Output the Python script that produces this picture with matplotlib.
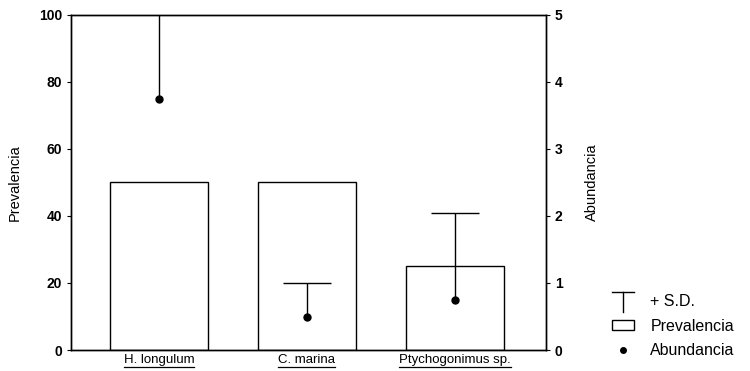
import matplotlib.pyplot as plt
from matplotlib.lines import Line2D
from matplotlib.patches import Rectangle
from matplotlib.legend_handler import HandlerBase
import numpy as np

plt.rcParams['font.family'] = ['Liberation Sans', 'DejaVu Sans']

species = ['H. longulum', 'C. marina', 'Ptychogonimus sp.']
prevalencia = [50, 50, 25]
abundancia = [3.75, 0.5, 0.75]
sd = [1.6, 0.5, 1.3]


class TeeHandle:
    pass


class HandlerTee(HandlerBase):
    def create_artists(self, legend, orig_handle, xdescent, ydescent,
                       width, height, fontsize, trans):
        x0, x1 = -xdescent, -xdescent + width
        xm = (x0 + x1) / 2
        top = -ydescent + height * 1.4
        bot = -ydescent - height * 0.6
        h = Line2D([x0, x1], [top, top], color='black', lw=1, transform=trans)
        v = Line2D([xm, xm], [top, bot], color='black', lw=1, transform=trans)
        return [h, v]


fig = plt.figure(figsize=(7.5, 3.71), dpi=100)
ax = fig.add_axes([0.0947, 0.0566, 0.633, 0.903])
x = np.arange(len(species))

ax.bar(x, prevalencia, width=0.66, facecolor='white', edgecolor='black', linewidth=1)
ax.set_xlim(-0.595, 2.615)
ax.set_ylim(0, 100)
ax.set_yticks([0, 20, 40, 60, 80, 100])
ax.set_ylabel('Prevalencia', fontsize=10.5, labelpad=12)
ax.set_xticks(x)
ax.set_xticklabels(species, fontsize=9.5)
ax.tick_params(axis='x', length=0, pad=3)
ax.tick_params(axis='y', direction='out', length=3, labelsize=10)
for lab in ax.get_yticklabels():
    lab.set_fontweight('bold')

ax2 = ax.twinx()
ax2.set_ylim(0, 5)
ax2.set_yticks([0, 1, 2, 3, 4, 5])
eb = ax2.errorbar(x, abundancia, yerr=[np.zeros(len(sd)), sd], fmt='o', color='black',
                  markersize=5, elinewidth=1, capsize=17, capthick=1)
# keep only the upper (+S.D.) caps
for cap in eb[1]:
    if np.allclose(cap.get_ydata(), abundancia):
        cap.remove()
ax2.set_ylabel('Abundancia', fontsize=10.5, labelpad=16)
ax2.tick_params(axis='y', direction='out', length=3, labelsize=10)
for lab in ax2.get_yticklabels():
    lab.set_fontweight('bold')

for a in (ax, ax2):
    for s in a.spines.values():
        s.set_linewidth(1)
        s.set_color('black')

handles = [TeeHandle(),
           Rectangle((0, 0), 1, 1, facecolor='white', edgecolor='black', lw=1),
           Line2D([], [], marker='o', color='black', ls='none', markersize=4)]
fig.legend(handles, ['+ S.D.', 'Prevalencia', 'Abundancia'],
           handler_map={TeeHandle: HandlerTee()},
           loc='lower left', bbox_to_anchor=(0.797, -0.005), frameon=False,
           fontsize=11.5, handlelength=1.4, handleheight=0.6, labelspacing=0.6,
           handletextpad=1.0)

# underline the species names
fig.canvas.draw()
renderer = fig.canvas.get_renderer()
inv = fig.transFigure.inverted()
for lab in ax.get_xticklabels():
    bb = lab.get_window_extent(renderer)
    (x0, y0), (x1, y1) = inv.transform([[bb.x0, bb.y0 - 1], [bb.x1, bb.y0 - 1]])
    fig.add_artist(Line2D([x0, x1], [y0, y1], color='black', lw=0.9))

fig.savefig('out.png', dpi=100)
